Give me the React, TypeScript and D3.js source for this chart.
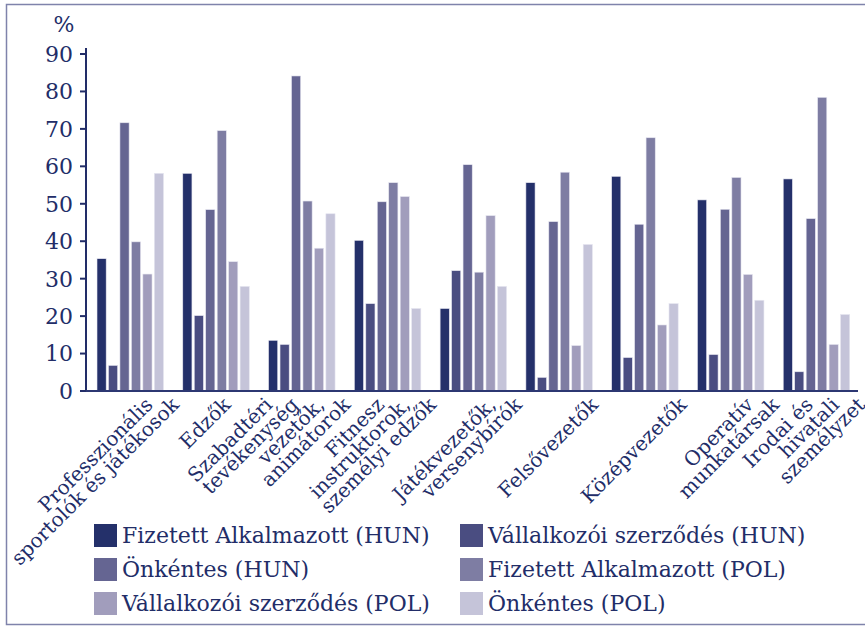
import React, { useEffect, useRef } from "react";
import * as d3 from "d3";

const categories: string[] = [
  "Professzionális\nsportolók és játékosok",
  "Edzők",
  "Szabadtéri\ntevékenység\nvezetők,\nanimátorok",
  "Fitnesz\ninstruktorok,\nszemélyi edzők",
  "Játékvezetők,\nversenybírók",
  "Felsővezetők",
  "Középvezetők",
  "Operatív\nmunkatársak",
  "Irodai és\nhivatali\nszemélyzet",
];

const seriesNames: string[] = [
  "Fizetett Alkalmazott (HUN)",
  "Vállalkozói szerződés (HUN)",
  "Önkéntes (HUN)",
  "Fizetett Alkalmazott (POL)",
  "Vállalkozói szerződés (POL)",
  "Önkéntes (POL)",
];

const fizetettHUN: number[] = [35.2, 58.0, 13.4, 40.1, 21.9, 55.5, 57.2, 50.9, 56.5];
const vallalkozoiHUN: number[] = [6.7, 20.0, 12.3, 23.2, 32.0, 3.5, 8.8, 9.6, 5.0];
const onkentesHUN: number[] = [71.5, 48.3, 84.0, 50.4, 60.3, 45.1, 44.4, 48.4, 45.9];
const fizetettPOL: number[] = [39.7, 69.4, 50.6, 55.5, 31.6, 58.3, 67.5, 56.9, 78.3];
const vallalkozoiPOL: number[] = [31.1, 34.4, 38.0, 51.8, 46.7, 12.0, 17.5, 31.0, 12.3];
const onkentesPOL: number[] = [58.0, 27.8, 47.2, 21.9, 27.8, 39.0, 23.2, 24.1, 20.3];

const seriesValues: number[][] = [
  fizetettHUN,
  vallalkozoiHUN,
  onkentesHUN,
  fizetettPOL,
  vallalkozoiPOL,
  onkentesPOL,
];

const colors: string[] = ["#24306a", "#4a4d81", "#656592", "#7e7da3", "#a19dbc", "#c5c4d9"];
const yTicks: number[] = [0, 10, 20, 30, 40, 50, 60, 70, 80, 90];

const W = 865;
const H = 628;
const FONT = "'DejaVu Serif', serif";
const NAVY = "#222d68";

export default function App() {
  const ref = useRef<SVGSVGElement | null>(null);

  useEffect(() => {
    const svg = d3.select(ref.current);
    svg.selectAll("*").remove();

    // frame
    svg
      .append("rect")
      .attr("x", 6.5)
      .attr("y", 4.5)
      .attr("width", 900)
      .attr("height", 620)
      .attr("fill", "none")
      .attr("stroke", "#7f83ab")
      .attr("stroke-width", 1.5);

    const left = 86;
    const right = 858;
    const y = d3.scaleLinear().domain([0, 90]).range([390.5, 53.5]);
    const x0 = d3.scaleBand<string>().domain(categories).range([left, right]).padding(0);
    const x1 = d3
      .scaleBand<number>()
      .domain(d3.range(seriesNames.length))
      .range([11, 77.5])
      .paddingInner(0.2)
      .paddingOuter(0);

    // bars
    const g = svg.append("g");
    categories.forEach((c, ci) => {
      seriesValues.forEach((vals, si) => {
        const v = vals[ci];
        g.append("rect")
          .attr("x", (x0(c) as number) + (x1(si) as number))
          .attr("y", y(v))
          .attr("width", x1.bandwidth())
          .attr("height", y(0) - y(v))
          .attr("fill", colors[si])
          .attr("stroke", "#e6e6f0")
          .attr("stroke-width", 0.6);
      });
    });

    // y axis
    const yAxis = d3
      .axisLeft(y)
      .tickValues(yTicks)
      .tickSize(6)
      .tickPadding(7)
      .tickFormat((d) => String(d));
    const ya = svg.append("g").attr("transform", `translate(${left},0)`).call(yAxis);
    ya.select(".domain").remove();
    ya.selectAll(".tick line").attr("stroke", NAVY).attr("stroke-width", 2);
    ya.selectAll(".tick text")
      .attr("fill", NAVY)
      .attr("font-family", FONT)
      .attr("font-size", 22)
      .attr("dy", "0.36em");
    svg
      .append("line")
      .attr("x1", left)
      .attr("x2", left)
      .attr("y1", 48)
      .attr("y2", 391.5)
      .attr("stroke", NAVY)
      .attr("stroke-width", 2);

    // x axis line
    svg
      .append("line")
      .attr("x1", left)
      .attr("x2", right)
      .attr("y1", 391)
      .attr("y2", 391)
      .attr("stroke", "#2c3772")
      .attr("stroke-width", 2.2);

    // % label
    svg
      .append("text")
      .attr("x", 64)
      .attr("y", 32)
      .attr("text-anchor", "middle")
      .attr("fill", NAVY)
      .attr("font-family", FONT)
      .attr("font-size", 22)
      .text("%");

    // category labels: each line ends just under the axis, lines step to the right
    const step = 26;
    const baseY = 406;
    categories.forEach((c) => {
      const lines = c.split("\n");
      const cx = (x0(c) as number) + 11 + 33;
      const lastEnd = cx + 50;
      lines.forEach((ln, li) => {
        const t = svg
          .append("text")
          .attr("text-anchor", "end")
          .attr("fill", NAVY)
          .attr("font-family", FONT)
          .attr("font-size", 20)
          .text(ln);
        let ex: number;
        if (lines.length === 1) {
          const w = (t.node() as SVGTextElement).getComputedTextLength();
          ex = cx - 6 + (w * Math.SQRT1_2) / 2;
        } else {
          ex = lastEnd - (lines.length - 1 - li) * step;
        }
        t.attr("transform", `translate(${ex},${baseY}) rotate(-45)`);
      });
    });

    // legend
    seriesNames.forEach((name, i) => {
      const col = i % 2;
      const row = Math.floor(i / 2);
      const lx = col === 0 ? 94 : 460;
      const ly = 524 + row * 34;
      svg
        .append("rect")
        .attr("x", lx)
        .attr("y", ly)
        .attr("width", 23)
        .attr("height", 23)
        .attr("fill", colors[i]);
      svg
        .append("text")
        .attr("x", lx + 28)
        .attr("y", ly + 19)
        .attr("fill", NAVY)
        .attr("font-family", FONT)
        .attr("font-size", 22)
        .text(name);
    });
  }, []);

  return (
    <svg
      ref={ref}
      width={W}
      height={H}
      style={{ position: "absolute", left: 0, top: 0, background: "#ffffff" }}
    />
  );
}
